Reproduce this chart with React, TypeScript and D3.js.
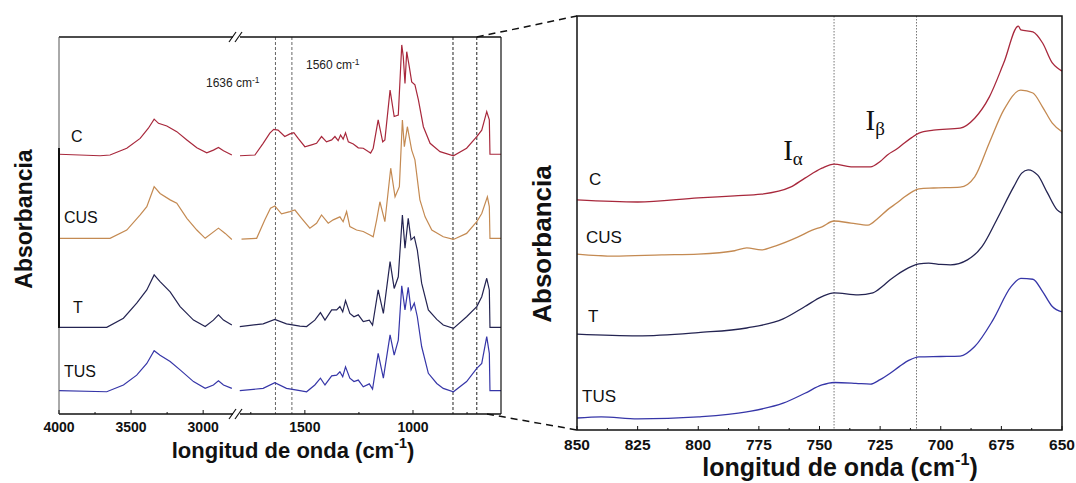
import React, { useEffect, useRef } from "react";
import * as d3 from "d3";

type Pt = [number, number];

const SERIES = ["C", "CUS", "T", "TUS"];
const COLORS = ["#a8283c", "#c48a52", "#242452", "#3636a8"];

// left panel, O-H / C-H region (4000-2800 cm-1)
const C_HI: Pt[] = [[4000, 68.9], [3715, 68.5], [3646, 68.7], [3530, 70.5], [3437, 73.1], [3380, 75.8], [3340, 78.2], [3310, 77.1], [3252, 76.4], [3183, 74.9], [3113, 72.7], [3044, 70.6], [2975, 69.3], [2929, 70.0], [2894, 70.7], [2859, 69.8], [2801, 68.7]];
const CUS_HI: Pt[] = [[4000, 46.6], [3646, 46.6], [3530, 48.8], [3437, 52.8], [3391, 55.0], [3340, 60.3], [3299, 58.5], [3229, 56.8], [3183, 55.9], [3113, 51.9], [3044, 48.8], [2986, 46.6], [2894, 49.3], [2847, 47.9], [2801, 46.3]];
const T_HI: Pt[] = [[4000, 23.0], [3669, 23.0], [3553, 25.4], [3461, 29.4], [3391, 32.9], [3340, 36.9], [3299, 35.1], [3229, 32.4], [3160, 28.5], [3067, 24.9], [2986, 23.2], [2929, 24.9], [2894, 26.3], [2859, 24.9], [2801, 23.6]];
const TUS_HI: Pt[] = [[4000, 6.2], [3669, 5.9], [3553, 7.7], [3461, 10.3], [3391, 13.4], [3340, 16.8], [3299, 15.6], [3229, 13.9], [3160, 11.7], [3067, 8.6], [2986, 6.8], [2929, 7.7], [2894, 8.8], [2859, 7.7], [2801, 6.8]];

// left panel, fingerprint region (1800-600 cm-1)
const C_LO: Pt[] = [[1800, 68.5], [1731, 68.7], [1693, 71.8], [1662, 74.5], [1644, 75.5], [1624, 75.3], [1593, 73.6], [1569, 74.3], [1551, 74.6], [1531, 73.1], [1500, 70.9], [1469, 71.4], [1446, 71.8], [1423, 73.6], [1400, 72.2], [1376, 72.7], [1361, 73.6], [1346, 72.5], [1335, 74.0], [1323, 72.9], [1312, 74.6], [1299, 72.2], [1276, 71.6], [1253, 70.6], [1230, 70.5], [1207, 69.6], [1196, 69.2], [1184, 70.5], [1161, 78.0], [1140, 72.2], [1130, 72.7], [1106, 85.9], [1087, 78.9], [1068, 79.3], [1052, 97.9], [1045, 94.8], [1037, 87.7], [1029, 96.1], [1017, 92.1], [1006, 88.1], [991, 87.3], [975, 83.3], [952, 76.2], [921, 71.8], [875, 69.6], [813, 68.5], [752, 70.5], [705, 73.6], [682, 75.3], [659, 80.2], [647, 78.0], [644, 68.9], [593, 68.9]];
const CUS_LO: Pt[] = [[1793, 46.4], [1723, 46.6], [1685, 51.5], [1659, 54.6], [1639, 55.2], [1608, 53.1], [1569, 53.7], [1546, 54.1], [1515, 51.9], [1477, 49.3], [1446, 50.6], [1423, 52.8], [1392, 50.6], [1369, 51.5], [1338, 52.3], [1323, 51.0], [1307, 53.7], [1292, 49.7], [1261, 48.8], [1230, 48.4], [1199, 47.5], [1184, 47.0], [1168, 51.5], [1153, 56.3], [1130, 51.0], [1103, 65.2], [1083, 57.6], [1063, 60.3], [1049, 78.0], [1040, 70.9], [1026, 76.2], [1006, 70.0], [991, 67.4], [968, 56.8], [944, 52.3], [913, 48.8], [860, 47.0], [813, 46.3], [752, 47.9], [705, 51.0], [682, 53.2], [656, 57.6], [647, 55.0], [644, 46.6], [593, 46.6]];
const T_LO: Pt[] = [[1801, 23.2], [1693, 23.9], [1639, 25.1], [1585, 23.9], [1523, 23.3], [1492, 23.2], [1454, 24.9], [1428, 26.9], [1407, 24.9], [1376, 27.6], [1353, 27.6], [1338, 28.5], [1325, 27.1], [1312, 30.1], [1292, 26.7], [1273, 25.8], [1253, 26.3], [1230, 24.5], [1202, 24.9], [1187, 23.6], [1161, 32.9], [1137, 26.7], [1106, 40.4], [1087, 33.3], [1068, 36.4], [1049, 52.8], [1037, 44.0], [1022, 51.9], [1009, 46.2], [994, 47.0], [980, 43.5], [960, 34.7], [929, 27.6], [890, 25.1], [860, 23.6], [813, 22.7], [752, 25.8], [705, 28.5], [682, 31.1], [659, 36.0], [647, 32.9], [644, 23.0], [593, 23.0]];
const TUS_LO: Pt[] = [[1801, 6.2], [1693, 6.8], [1639, 8.3], [1585, 6.8], [1523, 6.2], [1492, 5.9], [1454, 7.7], [1428, 9.5], [1407, 7.7], [1376, 10.1], [1353, 10.3], [1338, 11.2], [1325, 9.9], [1312, 12.5], [1292, 9.5], [1273, 8.6], [1253, 9.0], [1230, 7.2], [1202, 8.0], [1187, 6.6], [1161, 16.1], [1137, 9.5], [1106, 21.0], [1087, 15.6], [1068, 19.6], [1052, 34.0], [1037, 27.6], [1022, 33.6], [1009, 27.6], [994, 29.4], [980, 25.8], [960, 17.9], [929, 10.8], [890, 8.1], [860, 6.8], [813, 5.9], [752, 8.6], [705, 12.1], [682, 13.4], [659, 20.5], [647, 16.1], [644, 6.2], [593, 6.2]];

// right panel, 850-650 cm-1
const C_ZOOM: Pt[] = [[850, 55.7], [825, 55.2], [800, 56.2], [785, 56.7], [774, 57.1], [762, 58.8], [756, 61.0], [749, 63.4], [744, 64.4], [737, 63.7], [729, 63.7], [725, 65.0], [722, 66.6], [718, 68.1], [715, 69.5], [712, 70.8], [709, 71.9], [703, 72.6], [692, 73.1], [686, 75.5], [680, 80.6], [674, 88.9], [668, 97.8], [667, 96.9], [662, 96.4], [658, 93.7], [654, 88.9], [652, 87.7], [650, 86.9]];
const CUS_ZOOM: Pt[] = [[850, 42.6], [835, 42.1], [815, 42.4], [800, 42.6], [785, 43.4], [780, 44.1], [774, 43.6], [768, 44.6], [759, 46.7], [753, 48.4], [749, 49.2], [744, 50.6], [737, 50.1], [730, 49.6], [726, 51.2], [722, 53.3], [718, 55.0], [715, 56.4], [712, 57.6], [709, 58.4], [703, 58.6], [692, 58.8], [686, 61.3], [680, 69.5], [674, 77.5], [667, 82.3], [662, 81.6], [658, 78.2], [654, 74.3], [650, 72.2]];
const T_ZOOM: Pt[] = [[850, 23.2], [825, 22.8], [800, 23.6], [780, 24.7], [765, 26.9], [756, 29.9], [749, 32.3], [744, 33.2], [734, 32.7], [728, 33.2], [724, 34.8], [721, 36.3], [718, 37.6], [715, 38.7], [712, 39.6], [709, 40.2], [705, 40.4], [700, 40.1], [696, 40.0], [689, 41.2], [683, 44.4], [677, 50.8], [670, 58.8], [666.6, 62.2], [664, 63.0], [660, 61.7], [656, 57.4], [652, 53.3], [650, 52.5]];
const TUS_ZOOM: Pt[] = [[850, 2.9], [840, 3.2], [825, 2.7], [800, 3.2], [780, 4.4], [765, 6.5], [756, 8.9], [749, 10.9], [744, 11.5], [735, 11.3], [729, 11.1], [725, 12.2], [721, 13.7], [717, 15.4], [713, 16.9], [709, 17.7], [700, 17.8], [692, 17.9], [686, 20.2], [678.5, 26.6], [671, 34.7], [667, 36.7], [662, 36.5], [658, 33.5], [654, 29.9], [650, 28.6]];

const HI = [C_HI, CUS_HI, T_HI, TUS_HI];
const LO = [C_LO, CUS_LO, T_LO, TUS_LO];
const ZOOM = [C_ZOOM, CUS_ZOOM, T_ZOOM, TUS_ZOOM];

// ticks
const TICKS_HI = [4000, 3500, 3000];
const MINOR_HI = [3750, 3250];
const TICKS_LO = [1500, 1000];
const MINOR_LO = [1750, 1250, 750];
const TICKS_ZOOM = [850, 825, 800, 775, 750, 725, 700, 675, 650];

// marked bands
const BANDS_LEFT = [1636, 1560, 815, 705];
const BANDS_ZOOM = [744, 710];

const SANS = "'Liberation Sans', Arial, Helvetica, sans-serif";
const SERIF = "'Liberation Serif', 'Times New Roman', serif";

export default function App() {
  const svgRef = useRef<SVGSVGElement>(null);

  useEffect(() => {
    const svg = d3.select(svgRef.current);
    svg.selectAll("*").remove();

    const xHi = d3.scaleLinear().domain([4000, 2800]).range([59, 232]);
    const xLo = d3.scaleLinear().domain([1800, 593]).range([240, 501]);
    const yL = d3.scaleLinear().domain([0, 100]).range([414, 37]);
    const xR = d3.scaleLinear().domain([850, 650]).range([577, 1062]);
    const yR = d3.scaleLinear().domain([0, 100]).range([430, 17]);

    const L = { l: 59, r: 501, t: 37, b: 414 };
    const R = { l: 577, r: 1062, t: 16, b: 430 };

    // zoom connector lines
    svg.append("line").attr("x1", xLo(705)).attr("y1", L.t).attr("x2", R.l).attr("y2", R.t)
      .attr("stroke", "#111").attr("stroke-width", 1.5).attr("stroke-dasharray", "7,5");
    svg.append("line").attr("x1", 487).attr("y1", L.b).attr("x2", R.l).attr("y2", R.b)
      .attr("stroke", "#111").attr("stroke-width", 1.5).attr("stroke-dasharray", "7,5");

    // band markers, left
    svg.selectAll(".bandL").data(BANDS_LEFT).enter().append("line")
      .attr("x1", d => xLo(d)).attr("x2", d => xLo(d))
      .attr("y1", L.t).attr("y2", L.b)
      .attr("stroke", (d, i) => (i < 2 ? "#666" : "#222"))
      .attr("stroke-width", 1)
      .attr("stroke-dasharray", "3,2");

    // band markers, right
    svg.selectAll(".bandR").data(BANDS_ZOOM).enter().append("line")
      .attr("x1", d => xR(d)).attr("x2", d => xR(d))
      .attr("y1", R.t).attr("y2", R.b)
      .attr("stroke", "#777").attr("stroke-width", 1)
      .attr("stroke-dasharray", "1.5,1.5");

    // spectra
    const lineHi = d3.line<Pt>().x(d => xHi(d[0])).y(d => yL(d[1]));
    const lineLo = d3.line<Pt>().x(d => xLo(d[0])).y(d => yL(d[1]));
    const lineZ = d3.line<Pt>().x(d => xR(d[0])).y(d => yR(d[1])).curve(d3.curveMonotoneX);

    SERIES.forEach((name, i) => {
      svg.append("path").attr("d", lineHi(HI[i])).attr("fill", "none")
        .attr("stroke", COLORS[i]).attr("stroke-width", 1.2);
      svg.append("path").attr("d", lineLo(LO[i])).attr("fill", "none")
        .attr("stroke", COLORS[i]).attr("stroke-width", 1.2);
      svg.append("path").attr("d", lineZ(ZOOM[i])).attr("fill", "none")
        .attr("stroke", COLORS[i]).attr("stroke-width", 1.3);
    });

    // left frame
    const frame = svg.append("g").attr("stroke", "#111").attr("fill", "none");
    frame.append("line").attr("x1", L.l).attr("x2", L.r).attr("y1", L.t).attr("y2", L.t).attr("stroke-width", 1.5);
    frame.append("line").attr("x1", L.l).attr("x2", L.r).attr("y1", L.b).attr("y2", L.b).attr("stroke-width", 1.5);
    frame.append("line").attr("x1", L.r).attr("x2", L.r).attr("y1", L.t).attr("y2", L.b).attr("stroke-width", 1.2);
    frame.append("line").attr("x1", L.l).attr("x2", L.l).attr("y1", L.t).attr("y2", L.b).attr("stroke-width", 1).attr("stroke", "#555");
    frame.append("line").attr("x1", L.l).attr("x2", L.l).attr("y1", 148).attr("y2", 328).attr("stroke-width", 2);

    // axis breaks
    [L.t, L.b].forEach(y => {
      svg.append("rect").attr("x", 233).attr("y", y - 3).attr("width", 7).attr("height", 6).attr("fill", "#fff");
      [232, 238].forEach(x => {
        svg.append("line").attr("x1", x - 3).attr("y1", y + 5).attr("x2", x + 4).attr("y2", y - 5)
          .attr("stroke", "#111").attr("stroke-width", 1.2);
      });
    });

    // left ticks
    const tk = svg.append("g").attr("stroke", "#111").attr("stroke-width", 1);
    const addTick = (x: number, len: number) =>
      tk.append("line").attr("x1", x).attr("x2", x).attr("y1", L.b).attr("y2", L.b - len);
    TICKS_HI.forEach(v => addTick(xHi(v), 4));
    MINOR_HI.forEach(v => addTick(xHi(v), 2));
    TICKS_LO.forEach(v => addTick(xLo(v), 4));
    MINOR_LO.forEach(v => addTick(xLo(v), 2));

    const tickLabels = svg.append("g").attr("font-family", SANS).attr("font-weight", "bold")
      .attr("font-size", 14).attr("text-anchor", "middle").attr("fill", "#111");
    TICKS_HI.forEach(v => tickLabels.append("text").attr("x", xHi(v)).attr("y", 432).text(v));
    TICKS_LO.forEach(v => tickLabels.append("text").attr("x", xLo(v)).attr("y", 432).text(v));

    // right frame
    const rf = svg.append("g").attr("stroke", "#111").attr("fill", "none");
    rf.append("rect").attr("x", R.l).attr("y", R.t).attr("width", R.r - R.l).attr("height", R.b - R.t).attr("stroke-width", 1.5);

    TICKS_ZOOM.forEach((v, i) => {
      rf.append("line").attr("x1", xR(v)).attr("x2", xR(v)).attr("y1", R.b).attr("y2", R.b - 4).attr("stroke-width", 1);
      if (i < TICKS_ZOOM.length - 1) {
        const m = v - 12.5;
        rf.append("line").attr("x1", xR(m)).attr("x2", xR(m)).attr("y1", R.b).attr("y2", R.b - 2).attr("stroke-width", 1);
      }
    });
    const tickR = svg.append("g").attr("font-family", SANS).attr("font-weight", "bold")
      .attr("font-size", 15.5).attr("text-anchor", "middle").attr("fill", "#111");
    TICKS_ZOOM.forEach(v => tickR.append("text").attr("x", xR(v)).attr("y", 450).text(v));

    // axis titles
    const xTitle = (x: number, y: number, size: number) => {
      const t = svg.append("text").attr("x", x).attr("y", y).attr("text-anchor", "middle")
        .attr("font-family", SANS).attr("font-weight", "bold").attr("font-size", size).attr("fill", "#111");
      t.append("tspan").text("longitud de onda (cm");
      t.append("tspan").attr("font-size", size * 0.65).attr("dy", -size * 0.45).text("-1");
      t.append("tspan").attr("dy", size * 0.45).text(")");
    };
    xTitle(293, 458, 22);
    xTitle(840, 476, 25);

    const yTitle = (x: number, y: number, size: number) =>
      svg.append("text").attr("transform", `translate(${x},${y}) rotate(-90)`)
        .attr("text-anchor", "middle").attr("dominant-baseline", "central")
        .attr("font-family", SANS).attr("font-weight", "bold").attr("font-size", size)
        .attr("fill", "#111").text("Absorbancia");
    yTitle(24, 219, 23);
    yTitle(542, 244, 26);

    // series labels
    const labL = [[71, 142], [64, 223], [73, 313], [64, 377]];
    const labR = [[589, 185], [586, 243], [588, 322], [582, 402]];
    SERIES.forEach((name, i) => {
      svg.append("text").attr("x", labL[i][0]).attr("y", labL[i][1])
        .attr("font-family", SANS).attr("font-size", 16).attr("fill", "#111").text(name);
      svg.append("text").attr("x", labR[i][0]).attr("y", labR[i][1])
        .attr("font-family", SANS).attr("font-size", 17).attr("fill", "#111").text(name);
    });

    // band annotations
    const bandText = (x: number, y: number, label: string) => {
      const t = svg.append("text").attr("x", x).attr("y", y)
        .attr("font-family", SANS).attr("font-size", 12).attr("fill", "#222");
      t.append("tspan").text(label + " cm");
      t.append("tspan").attr("font-size", 8.5).attr("dy", -4).text("-1");
    };
    bandText(206, 87, "1636");
    bandText(306, 69, "1560");

    const iLabel = (x: number, y: number, sub: string) => {
      const t = svg.append("text").attr("x", x).attr("y", y)
        .attr("font-family", SERIF).attr("font-size", 29).attr("fill", "#111");
      t.append("tspan").text("I");
      t.append("tspan").attr("font-size", 19).attr("dy", 5).text(sub);
    };
    iLabel(xR(765), 160, "α");
    iLabel(xR(731), 130, "β");
  }, []);

  return (
    <svg
      ref={svgRef}
      width={1076}
      height={483}
      style={{ position: "absolute", left: 0, top: 0, background: "#fff" }}
    />
  );
}
